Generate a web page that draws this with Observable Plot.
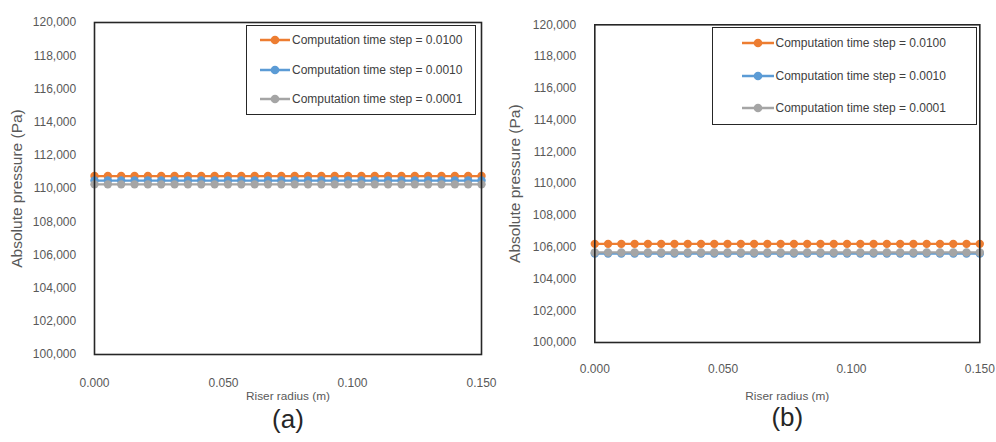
<!DOCTYPE html>
<html>
<head>
<meta charset="utf-8">
<script src="https://cdn.jsdelivr.net/npm/d3@7"></script>
<script src="https://cdn.jsdelivr.net/npm/@observablehq/plot@0.6"></script>
<style>
  html, body { margin: 0; padding: 0; background: #fff; }
  #root { position: relative; width: 996px; height: 442px; font-family: "Liberation Sans", Arial, sans-serif; }
  .panel { position: absolute; top: 0; }
  .legend { position: absolute; border: 1.5px solid #262626; background: #fff; box-sizing: border-box; }
  .legend .item { position: absolute; display: flex; align-items: center; font-size: 12px; color: #404040; white-space: nowrap; }
  .legend svg { display: block; }
</style>
</head>
<body>
<div id="root"></div>
<script>
// ---------------- DATA ----------------
const radius = [0, 0.00517, 0.01034, 0.01552, 0.02069, 0.02586, 0.03103, 0.03621, 0.04138, 0.04655,
  0.05172, 0.05690, 0.06207, 0.06724, 0.07241, 0.07759, 0.08276, 0.08793, 0.09310, 0.09828,
  0.10345, 0.10862, 0.11379, 0.11897, 0.12414, 0.12931, 0.13448, 0.13966, 0.14483, 0.15];

const seriesNames = ["Computation time step = 0.0100", "Computation time step = 0.0010", "Computation time step = 0.0001"];

// Panel (a)
const pressureA_0100 = [110750,110750,110750,110750,110750,110750,110750,110750,110750,110750,110750,110750,110750,110750,110750,110750,110750,110750,110750,110750,110750,110750,110750,110750,110750,110750,110750,110750,110750,110750];
const pressureA_0010 = [110480,110480,110480,110480,110480,110480,110480,110480,110480,110480,110480,110480,110480,110480,110480,110480,110480,110480,110480,110480,110480,110480,110480,110480,110480,110480,110480,110480,110480,110480];
const pressureA_0001 = [110250,110250,110250,110250,110250,110250,110250,110250,110250,110250,110250,110250,110250,110250,110250,110250,110250,110250,110250,110250,110250,110250,110250,110250,110250,110250,110250,110250,110250,110250];

// Panel (b)
const pressureB_0100 = [106210,106210,106210,106210,106210,106210,106210,106210,106210,106210,106210,106210,106210,106210,106210,106210,106210,106210,106210,106210,106210,106210,106210,106210,106210,106210,106210,106210,106210,106210];
const pressureB_0010 = [105600,105600,105600,105600,105600,105600,105600,105600,105600,105600,105600,105600,105600,105600,105600,105600,105600,105600,105600,105600,105600,105600,105600,105600,105600,105600,105600,105600,105600,105600];
const pressureB_0001 = [105670,105670,105670,105670,105670,105670,105670,105670,105670,105670,105670,105670,105670,105670,105670,105670,105670,105670,105670,105670,105670,105670,105670,105670,105670,105670,105670,105670,105670,105670];

const xTicks = [0, 0.05, 0.1, 0.15];
const yTicks = [100000, 102000, 104000, 106000, 108000, 110000, 112000, 114000, 116000, 118000, 120000];
const xTitle = "Riser radius (m)";
const yTitle = "Absolute pressure (Pa)";
const panelLabels = ["(a)", "(b)"];

// ---------------- STYLE ----------------
const colors = ["#ED7D31", "#5B9BD5", "#A5A5A5"];
const FONT = "'Liberation Sans', Arial, sans-serif";

function buildPanel(cfg) {
  const series = cfg.values.map((vals, i) => radius.map((r, j) => ({ x: r, y: vals[j], s: i })));
  const marks = [];
  series.forEach((d, i) => {
    marks.push(Plot.line(d, { x: "x", y: "y", stroke: colors[i], strokeWidth: 2.25 }));
    marks.push(Plot.dot(d, { x: "x", y: "y", fill: colors[i], r: 4.2, stroke: "none" }));
  });
  marks.push(Plot.frame({ stroke: "#262626", strokeWidth: 1.6 }));
  marks.push(Plot.axisY({ ticks: yTicks, tickSize: 0, tickPadding: cfg.yPad, tickFormat: d3.format(","), label: null, fontSize: 12, fill: "#595959" }));
  marks.push(Plot.axisX({ ticks: xTicks, tickSize: 0, tickPadding: cfg.xPad, tickFormat: d3.format(".3f"), label: null, fontSize: 12, fill: "#595959" }));
  marks.push(Plot.text([xTitle], { text: d => d, frameAnchor: "bottom", dy: cfg.xTitleDy, fontSize: 11.8, fill: "#595959" }));
  marks.push(Plot.text([cfg.label], { text: d => d, frameAnchor: "bottom", dy: cfg.labelDy, fontSize: 26, fill: "#262626" }));
  marks.push(Plot.text([yTitle], { text: d => d, frameAnchor: "left", textAnchor: "middle", lineAnchor: "middle", dx: cfg.yTitleDx, rotate: -90, fontSize: 15.5, fill: "#595959" }));

  const plot = Plot.plot({
    width: cfg.width,
    height: 442,
    marginLeft: cfg.ml, marginRight: cfg.mr, marginTop: cfg.mt, marginBottom: cfg.mb,
    x: { domain: [0, 0.15], axis: null },
    y: { domain: [100000, 120000], axis: null },
    style: { fontFamily: FONT, fontSize: "12px", background: "transparent", overflow: "visible" },
    marks
  });

  const wrap = document.createElement("div");
  wrap.className = "panel";
  wrap.style.left = cfg.left + "px";
  wrap.style.width = cfg.width + "px";
  wrap.appendChild(plot);

  // legend
  const lg = document.createElement("div");
  lg.className = "legend";
  Object.assign(lg.style, { left: cfg.lg.left + "px", top: cfg.lg.top + "px", width: cfg.lg.w + "px", height: cfg.lg.h + "px" });
  seriesNames.forEach((name, i) => {
    const it = document.createElement("div");
    it.className = "item";
    it.style.left = cfg.lg.lineX + "px";
    it.style.top = (cfg.lg.rows[i] - 8) + "px";
    it.style.height = "16px";
    const sw = cfg.lg.lineW;
    it.innerHTML = `<svg width="${sw}" height="16"><line x1="0" x2="${sw}" y1="8" y2="8" stroke="${colors[i]}" stroke-width="2.5"/><circle cx="${sw/2}" cy="8" r="4.3" fill="${colors[i]}"/></svg><span style="margin-left:${cfg.lg.gap}px">${name}</span>`;
    lg.appendChild(it);
  });
  wrap.appendChild(lg);
  return wrap;
}

const root = document.getElementById("root");
root.appendChild(buildPanel({
  left: 0, width: 498, ml: 94, mr: 17, mt: 22, mb: 88,
  values: [pressureA_0100, pressureA_0010, pressureA_0001],
  yPad: 18.3, xPad: 23.5, xTitleDy: 45, labelDy: 73, yTitleDx: -77, label: panelLabels[0],
  lg: { left: 246, top: 25, w: 230, h: 90, lineX: 13, lineW: 30, gap: 2, rows: [14, 43.5, 72.5] }
}));
root.appendChild(buildPanel({
  left: 500, width: 496, ml: 94.3, mr: 16.7, mt: 24.3, mb: 100,
  values: [pressureB_0100, pressureB_0010, pressureB_0001],
  yPad: 18.6, xPad: 21.7, xTitleDy: 57, labelDy: 83, yTitleDx: -80, label: panelLabels[1],
  lg: { left: 212, top: 27, w: 265, h: 98, lineX: 28.5, lineW: 32, gap: 2, rows: [15, 47.5, 79.5] }
}));
</script>
</body>
</html>
